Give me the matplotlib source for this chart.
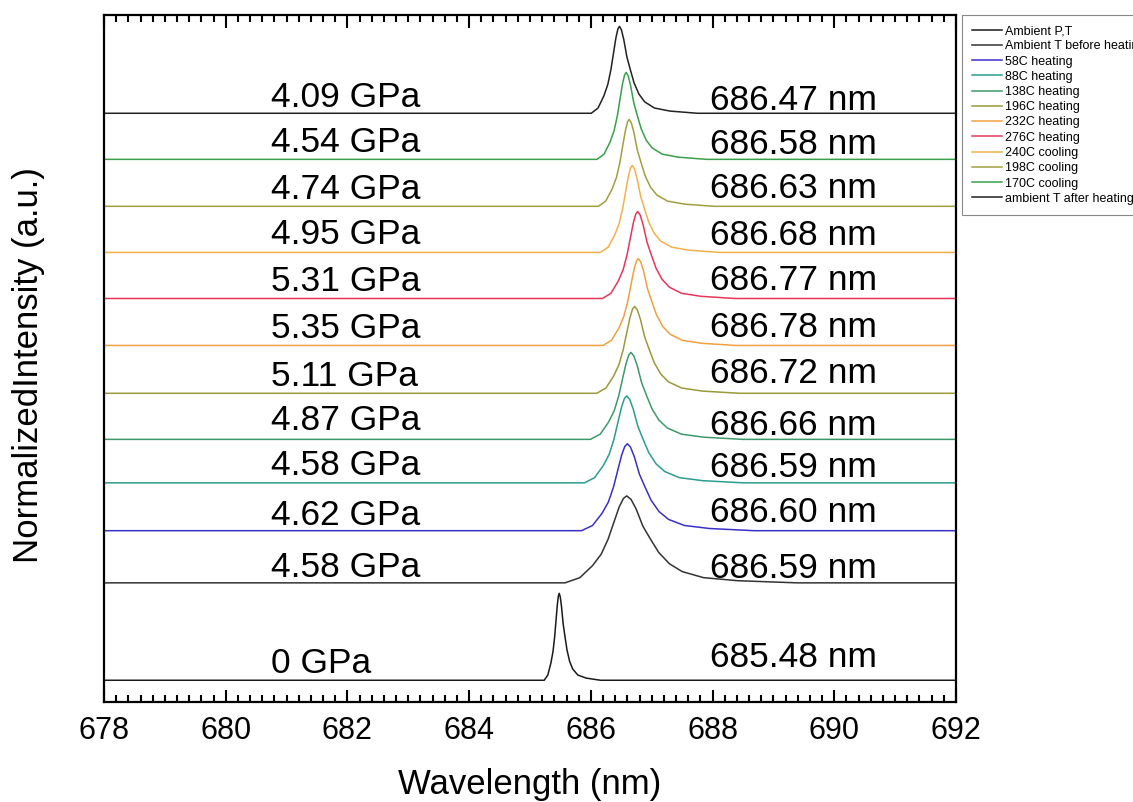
import numpy as np
import matplotlib
matplotlib.use("Agg")
import matplotlib.pyplot as plt
from matplotlib.ticker import MultipleLocator

plt.rcParams['font.family'] = ['Liberation Sans', 'DejaVu Sans']

# data, bottom trace first
series = ["Ambient P,T", "Ambient T before heating", "58C heating", "88C heating",
          "138C heating", "196C heating", "232C heating", "276C heating",
          "240C cooling", "198C cooling", "170C cooling", "ambient T after heating"]
pressure_lbl = ["0 GPa", "4.58 GPa", "4.62 GPa", "4.58 GPa", "4.87 GPa", "5.11 GPa",
                "5.35 GPa", "5.31 GPa", "4.95 GPa", "4.74 GPa", "4.54 GPa", "4.09 GPa"]
peak_nm = [685.48, 686.59, 686.60, 686.59, 686.66, 686.72,
           686.78, 686.77, 686.68, 686.63, 686.58, 686.47]
fwhm_nm = [0.17, 0.70, 0.52, 0.48, 0.46, 0.43, 0.40, 0.40, 0.36, 0.35, 0.33, 0.32]
offsets = [0.25, 1.37, 1.97, 2.52, 3.02, 3.55, 4.10, 4.64, 5.17, 5.70, 6.24, 6.77]
colors = ["#1a1a1a", "#333333", "#3a30c8", "#2a9d8f", "#3c9a6a", "#9a9a3a",
          "#f0a040", "#e8365a", "#f2b24a", "#a0a040", "#3aa04a", "#222222"]

# peak profile (x in units of FWHM from the peak, normalized height)
shape_u = [-1.45, -1.1, -0.8, -0.6, -0.44, -0.3, -0.18, -0.08, 0.0,
           0.1, 0.22, 0.38, 0.56, 0.75, 1.0, 1.3, 1.8, 2.6, 4.0]
shape_h = [0.0, 0.06, 0.2, 0.33, 0.5, 0.7, 0.87, 0.97, 1.0,
           0.96, 0.85, 0.65, 0.5, 0.35, 0.22, 0.13, 0.06, 0.025, 0.0]

# label placement (data units above each baseline)
gpa_dy = [0.19, 0.18, 0.18, 0.2, 0.22, 0.19, 0.2, 0.19, 0.21, 0.19, 0.19, 0.18]
nm_dy = [0.26, 0.16, 0.21, 0.18, 0.16, 0.23, 0.21, 0.21, 0.2, 0.2, 0.17, 0.15]

fig = plt.figure(figsize=(11.33, 8.02), dpi=100)
ax = fig.add_axes([104/1133, 1 - 702/802, 852/1133, 687/802])

for i in range(len(series)):
    x = [678.0] + [peak_nm[i] + u * fwhm_nm[i] for u in shape_u] + [692.0]
    y = [offsets[i]] + [offsets[i] + h for h in shape_h] + [offsets[i]]
    ax.plot(x, y, color=colors[i], lw=1.1, label=series[i])
    ax.text(680.75, offsets[i] + gpa_dy[i], pressure_lbl[i], fontsize=25.5, va='center', ha='left')
    ax.text(687.95, offsets[i] + nm_dy[i], "%.2f nm" % peak_nm[i], fontsize=25.5, va='center', ha='left')

ax.set_xlim(678, 692)
ax.set_ylim(0, 7.9)
ax.xaxis.set_major_locator(MultipleLocator(2))
ax.xaxis.set_minor_locator(MultipleLocator(0.2))
ax.tick_params(axis='x', which='both', direction='in', top=True, bottom=True,
               labelsize=22, pad=10, width=1.5)
ax.tick_params(axis='x', which='major', length=9)
ax.tick_params(axis='x', which='minor', length=5)
ax.set_yticks([])
for s in ax.spines.values():
    s.set_linewidth(1.6)

ax.set_xlabel("Wavelength (nm)", fontsize=25)
ax.xaxis.set_label_coords(0.5, -0.096)
ax.xaxis.label.set_va('top')
ax.set_ylabel("NormalizedIntensity (a.u.)", fontsize=25)
ax.yaxis.set_label_coords(-0.069, 0.49)

# legend runs off the right edge, as in the original
h, l = ax.get_legend_handles_labels()
leg = fig.legend(h, l, loc='upper left', bbox_to_anchor=(962/1133, 1 - 15/802),
                 borderaxespad=0, fontsize=9, handlelength=2.4, labelspacing=0.26,
                 borderpad=0.8, handletextpad=0.25, fancybox=False, framealpha=1,
                 edgecolor='#888888')
leg.get_frame().set_linewidth(0.8)

fig.savefig("out.png", dpi=100)
